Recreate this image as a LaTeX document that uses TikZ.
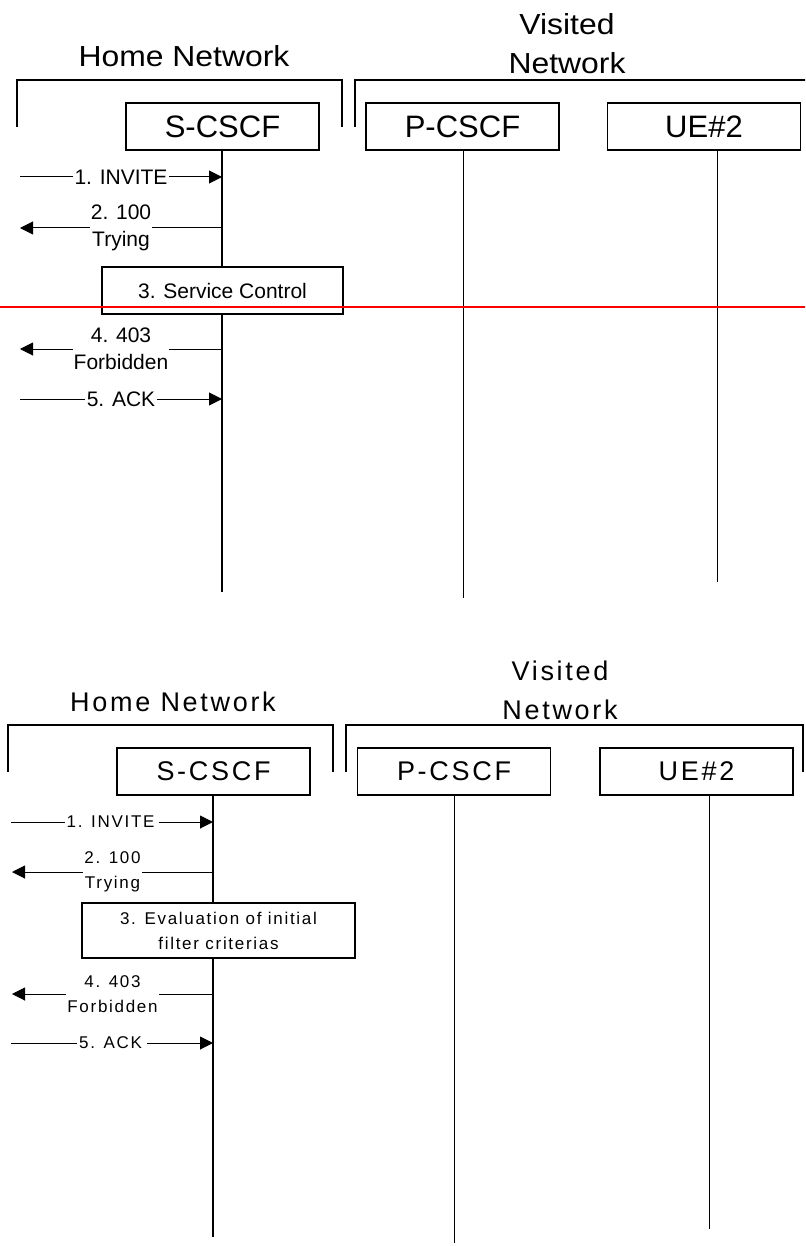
\documentclass[tikz,border=0pt]{standalone}
\usepackage{fontspec}
\setmainfont{Liberation Sans}
\newfontfamily\spc[LetterSpace=10]{Liberation Sans}
\newfontfamily\wide[FakeStretch=1.1]{Liberation Sans}
\usetikzlibrary{arrows.meta}
\begin{document}
\begin{tikzpicture}[x=1pt,y=-1pt,
  ent/.style={draw,line width=1.5pt,minimum width=193pt,minimum height=47pt,inner sep=0pt,font=\fontsize{31}{34}\selectfont},
  entb/.style={draw,line width=1.5pt,minimum width=193pt,minimum height=47pt,inner sep=0pt,font=\spc\fontsize{27}{30}\selectfont},
  net/.style={inner sep=0pt,align=center,font=\wide\fontsize{29}{39}\selectfont},
  netb/.style={inner sep=0pt,align=center,font=\spc\fontsize{27}{39}\selectfont},
  brk/.style={line width=1.5pt},
  life/.style={line width=1pt},
  lifes/.style={line width=1.6pt},
  msg/.style={line width=1pt,-{Triangle[length=13pt,width=13pt]}},
  lab/.style={fill=white,inner sep=2pt,align=center,font=\fontsize{21}{27}\selectfont},
  labb/.style={fill=white,inner sep=2pt,align=center,font=\spc\fontsize{17}{25}\selectfont},
  act/.style={draw,line width=1.5pt,fill=white,inner sep=0pt,align=center},
]
\useasboundingbox (0,0) rectangle (805,1246);
\begin{scope}
\clip (0,0) rectangle (805,1246);
% ================= TOP =================
\node[net] (hn1) at (184,56) {Home Network};
\node[net] (vn1) at (567,44) {Visited\\Network};
\draw[brk] (17,127) -- (17,80) -- (342,80) -- (342,127);
\draw[brk] (355,127) -- (355,80) -- (812,80) -- (812,127);
\node[ent] (s1) at (222.5,126.5) {S-CSCF};
\node[ent] (p1) at (462.5,126.5) {P-CSCF};
\node[ent] (u1) at (704,126.5) {UE\#2};
\coordinate (s1e) at (222,592);
\coordinate (p1e) at (463,598);
\coordinate (u1e) at (717,582);
\draw[lifes] (s1.south -| s1e) -- (s1e);
\draw[life] (p1.south -| p1e) -- (p1e);
\draw[life] (u1.south -| u1e) -- (u1e);
\coordinate (l1a) at (20,177);
\coordinate (l1b) at (20,228);
\coordinate (l1d) at (20,349);
\coordinate (l1e) at (20,399);
\draw[msg] (l1a) -- node[lab,pos=0.5]{1. INVITE} (l1a -| s1e);
\draw[msg] (l1b -| s1e) -- node[lab,pos=0.5,inner sep=1pt]{2. 100\\Trying} (l1b);
\node[act,minimum width=241pt,minimum height=47pt,font=\fontsize{21}{27}\selectfont] (sc1) at (222.5,290.5) {3. Service Control};
\draw[msg] (l1d -| s1e) -- node[lab,pos=0.5,inner sep=1pt]{4. 403\\Forbidden} (l1d);
\draw[msg] (l1e) -- node[lab,pos=0.5]{5. ACK} (l1e -| s1e);
\coordinate (r1) at (0,307);
\coordinate (r2) at (805,307);
\draw[red,line width=2pt] (r1) -- (r2);
% ================= BOTTOM =================
\node[netb] (hn2) at (173,702) {Home Network};
\node[netb] (vn2) at (560,690) {Visited\\Network};
\draw[brk] (8,772) -- (8,725) -- (333,725) -- (333,772);
\draw[brk] (346,772) -- (346,725) -- (803,725) -- (803,772);
\node[entb] (s2) at (213.5,771.5) {S-CSCF};
\node[entb] (p2) at (454,771.5) {P-CSCF};
\node[entb] (u2) at (696.5,771.5) {UE\#2};
\coordinate (s2e) at (213,1237);
\coordinate (p2e) at (454,1243);
\coordinate (u2e) at (709,1229);
\draw[lifes] (s2.south -| s2e) -- (s2e);
\draw[life] (p2.south -| p2e) -- (p2e);
\draw[life] (u2.south -| u2e) -- (u2e);
\coordinate (l2a) at (11,822);
\coordinate (l2b) at (12,872);
\coordinate (l2d) at (12,994);
\coordinate (l2e) at (11,1043);
\draw[msg] (l2a) -- node[labb,pos=0.5]{1. INVITE\,} (l2a -| s2e);
\draw[msg] (l2b -| s2e) -- node[labb,pos=0.5,inner sep=1pt]{2. 100\\Trying} (l2b);
\node[act,minimum width=273pt,minimum height=55pt,font=\spc\fontsize{17}{25}\selectfont] (ev2) at (218.5,930.5) {3. Evaluation of initial\\filter criterias};
\draw[msg] (l2d -| s2e) -- node[labb,pos=0.5,inner sep=1pt]{4. 403\\Forbidden} (l2d);
\draw[msg] (l2e) -- node[labb,pos=0.5]{5. ACK\,} (l2e -| s2e);
\end{scope}
\end{tikzpicture}
\end{document}
